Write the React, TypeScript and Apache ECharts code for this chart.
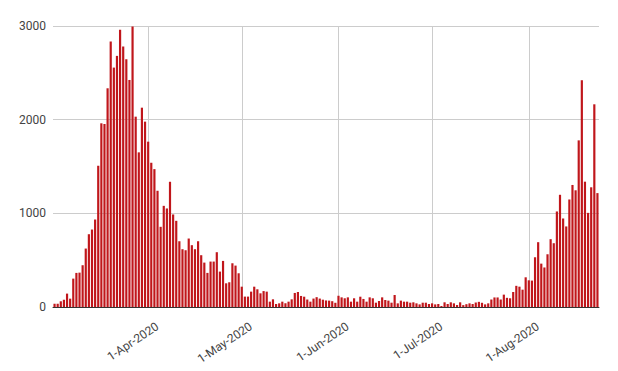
import React, { useEffect, useRef } from 'react';
import * as echarts from 'echarts';

// Daily values, one per day starting 2-Mar-2020 (to 23-Aug-2020)
const startYear = 2020;
const startMonth = 2; // March (0-based)
const startDay = 2;
const monthNames = ['Jan', 'Feb', 'Mar', 'Apr', 'May', 'Jun', 'Jul', 'Aug', 'Sep', 'Oct', 'Nov', 'Dec'];

const marchValues = [36, 36, 61, 78, 143, 89, 303, 364, 367, 446, 624, 777, 827, 934, 1508, 1961, 1954, 2335, 2834, 2556, 2681, 2959, 2780, 2645, 2424, 2995, 2032, 1651, 2128, 1979];
const aprilValues = [1765, 1540, 1472, 1241, 856, 1080, 1052, 1337, 988, 920, 702, 617, 606, 731, 660, 617, 702, 553, 474, 364, 485, 485, 585, 378, 492, 253, 264, 467, 442, 360];
const mayValues = [217, 111, 111, 164, 217, 189, 146, 170, 164, 57, 82, 32, 39, 57, 40, 57, 82, 150, 160, 118, 110, 80, 57, 90, 105, 90, 78, 70, 68, 62, 45];
const juneValues = [120, 103, 93, 103, 57, 93, 57, 110, 86, 57, 103, 93, 46, 64, 103, 75, 68, 46, 128, 39, 68, 57, 57, 46, 50, 39, 28, 46, 46, 32];
const julyValues = [39, 28, 32, 11, 50, 32, 50, 39, 21, 50, 20, 30, 39, 32, 48, 55, 45, 28, 39, 80, 102, 102, 80, 132, 98, 93, 160, 226, 217, 185, 317];
const augustValues = [285, 282, 531, 692, 463, 422, 563, 724, 681, 1020, 1198, 945, 860, 1148, 1303, 1246, 1779, 2421, 1338, 1005, 1278, 2164, 1216];

const dailyValues = [...marchValues, ...aprilValues, ...mayValues, ...juneValues, ...julyValues, ...augustValues];

const monthTickLabels = ['1-Apr-2020', '1-May-2020', '1-Jun-2020', '1-Jul-2020', '1-Aug-2020'];

const yMin = 0;
const yMax = 3000;
const yStep = 1000;

function buildCategories(n: number): string[] {
  const out: string[] = [];
  const t0 = Date.UTC(startYear, startMonth, startDay);
  for (let i = 0; i < n; i++) {
    const d = new Date(t0 + i * 86400000);
    out.push(`${d.getUTCDate()}-${monthNames[d.getUTCMonth()]}-${d.getUTCFullYear()}`);
  }
  return out;
}

export default function App() {
  const ref = useRef<HTMLDivElement>(null);

  useEffect(() => {
    if (!ref.current) return;
    const chart = echarts.init(ref.current, undefined, { renderer: 'svg' });
    const categories = buildCategories(dailyValues.length);
    const font = 'Roboto, Arial, sans-serif';

    chart.setOption({
      animation: false,
      backgroundColor: '#ffffff',
      grid: { left: 53, right: 19, top: 26, bottom: 64, containLabel: false },
      xAxis: {
        type: 'category',
        data: categories,
        boundaryGap: true,
        axisTick: { show: false },
        axisLine: { show: true, lineStyle: { color: '#333333', width: 1 } },
        splitLine: { show: false },
        axisLabel: {
          interval: (_i: number, v: string) => monthTickLabels.includes(v),
          rotate: 34,
          margin: 17,
          align: 'right',
          verticalAlign: 'top',
          padding: [0, -7, 0, 0],
          color: '#444444',
          fontSize: 12,
          fontFamily: font,
        },
      },
      yAxis: {
        type: 'value',
        min: yMin,
        max: yMax,
        interval: yStep,
        axisLine: { show: false },
        axisTick: { show: false },
        axisLabel: {
          color: '#444444',
          fontSize: 12,
          fontFamily: font,
          margin: 7,
          formatter: (v: number) => String(v),
        },
        splitLine: { show: true, lineStyle: { color: '#cccccc', width: 1 } },
      },
      series: [
        {
          type: 'bar',
          data: dailyValues,
          barCategoryGap: '30%',
          itemStyle: { color: '#c0161b' },
          z: 2,
          markLine: {
            silent: true,
            z: 1,
            symbol: ['none', 'none'],
            label: { show: false },
            emphasis: { disabled: true },
            lineStyle: { color: '#cccccc', width: 1, type: 'solid' },
            data: monthTickLabels.map((d) => ({ xAxis: d })),
          },
        },
      ],
    });

    return () => chart.dispose();
  }, []);

  return (
    <div
      ref={ref}
      style={{ position: 'fixed', left: 0, top: 0, width: 618, height: 371, background: '#fff' }}
    />
  );
}
